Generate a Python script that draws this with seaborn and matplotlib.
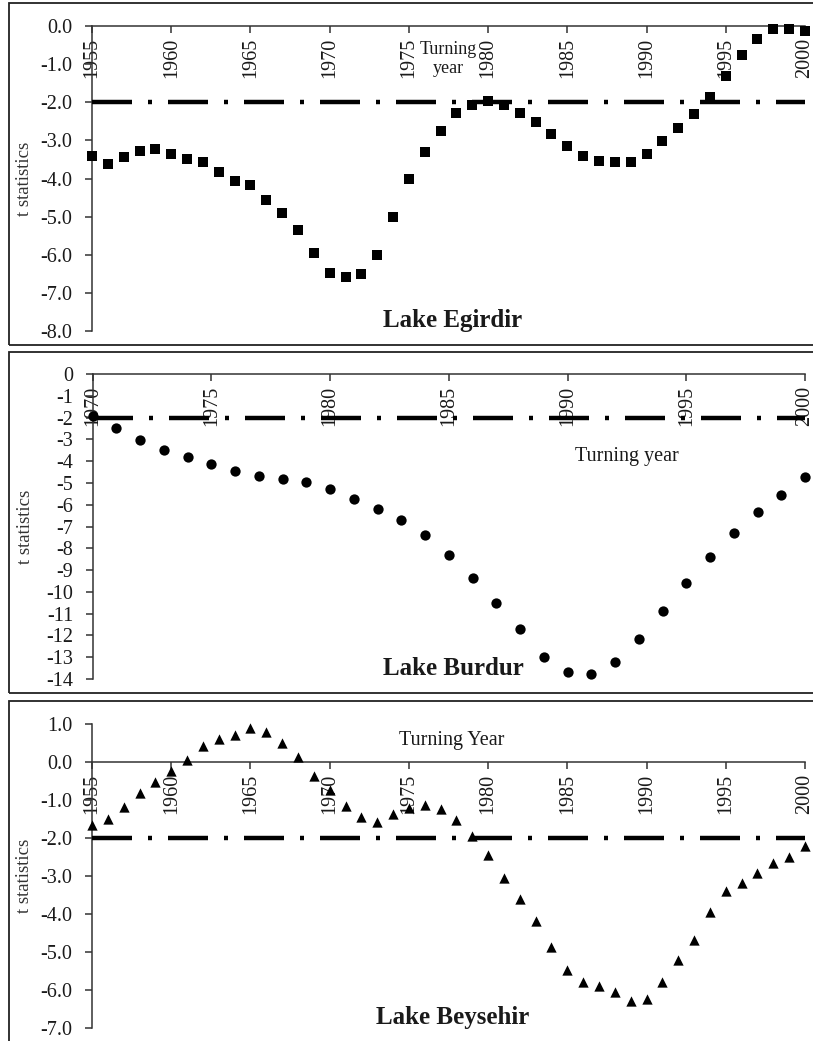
import numpy as np
import pandas as pd
import seaborn as sns
import matplotlib
matplotlib.use("Agg")
import matplotlib.pyplot as plt
from matplotlib.patches import Rectangle

# t statistics
years_long = list(range(1955, 2001))
years_burdur = list(range(1970, 2001))

egirdir = [-3.40, -3.63, -3.44, -3.28, -3.23, -3.37, -3.50, -3.58, -3.84, -4.06,
           -4.18, -4.57, -4.91, -5.35, -5.96, -6.47, -6.59, -6.51, -6.01, -5.00,
           -4.01, -3.31, -2.76, -2.29, -2.07, -1.98, -2.07, -2.29, -2.53, -2.84,
           -3.15, -3.40, -3.53, -3.58, -3.58, -3.37, -3.02, -2.67, -2.32, -1.85,
           -1.30, -0.76, -0.34, -0.08, -0.08, -0.12]

burdur = [-1.91, -2.48, -3.02, -3.48, -3.83, -4.13, -4.44, -4.69, -4.81, -4.98,
          -5.28, -5.74, -6.19, -6.71, -7.40, -8.30, -9.36, -10.49, -11.72, -13.00,
          -13.69, -13.77, -13.23, -12.16, -10.89, -9.59, -8.38, -7.32, -6.34, -5.57,
          -4.73]

beysehir = [-1.66, -1.49, -1.18, -0.81, -0.52, -0.22, 0.06, 0.42, 0.61, 0.73,
            0.90, 0.79, 0.51, 0.13, -0.35, -0.74, -1.14, -1.44, -1.57, -1.37,
            -1.20, -1.12, -1.22, -1.51, -1.94, -2.43, -3.04, -3.60, -4.17, -4.86,
            -5.47, -5.79, -5.88, -6.05, -6.27, -6.23, -5.79, -5.21, -4.68, -3.95,
            -3.39, -3.18, -2.91, -2.65, -2.48, -2.19]

crit = -2.0

egirdir_yticks = [0.0, -1.0, -2.0, -3.0, -4.0, -5.0, -6.0, -7.0, -8.0]
burdur_yticks = list(range(0, -15, -1))
beysehir_yticks = [1.0, 0.0, -1.0, -2.0, -3.0, -4.0, -5.0, -6.0, -7.0]
xticks_long = list(range(1955, 2001, 5))
xticks_burdur = list(range(1970, 2001, 5))

sns.set_style("white")
plt.rcParams['font.family'] = ['Liberation Serif', 'DejaVu Serif']
plt.rcParams['axes.unicode_minus'] = False

ink = "#1a1a1a"
axis_col = "#333333"

fig = plt.figure(figsize=(8.13, 10.41), dpi=100)

# panel frames (pixel boxes, open to the right like the source)
W, H = 813.0, 1041.0
for top, bottom in [(3, 345), (352, 693), (701, 1060)]:
    fig.patches.append(Rectangle((9 / W, 1 - bottom / H), 1.2, (bottom - top) / H,
                                 transform=fig.transFigure, fill=False,
                                 edgecolor="#222222", lw=1.3, clip_on=False))

panels = [
    dict(rect=[92 / W, 1 - 331 / H, 713 / W, 305 / H], x=years_long, y=egirdir,
         marker='s', s=42, ylim=(-8, 0), yticks=egirdir_yticks, fmt="{:.1f}",
         xticks=xticks_long, name="Lake Egirdir", turn="Turning\nyear",
         turn_xy=(0.500, 0.893), turn_fs=13),
    dict(rect=[92.7 / W, 1 - 679 / H, 712.3 / W, 305 / H], x=years_burdur, y=burdur,
         marker='o', s=55, ylim=(-14, 0), yticks=burdur_yticks, fmt="{:.0f}",
         xticks=xticks_burdur, name="Lake Burdur", turn="Turning year",
         turn_xy=(0.750, 0.728), turn_fs=14.5),
    dict(rect=[92 / W, 1 - 1028.3 / H, 713 / W, 304 / H], x=years_long, y=beysehir,
         marker='^', s=55, ylim=(-7, 1), yticks=beysehir_yticks, fmt="{:.1f}",
         xticks=xticks_long, name="Lake Beysehir", turn="Turning Year",
         turn_xy=(0.505, 0.947), turn_fs=14.5),
]

for p in panels:
    ax = fig.add_axes(p['rect'])
    ax.set_facecolor("none")
    df = pd.DataFrame({'year': p['x'], 't': p['y']})
    sns.scatterplot(data=df, x='year', y='t', marker=p['marker'], s=p['s'],
                    color='black', edgecolor='black', linewidth=0, ax=ax,
                    clip_on=False, zorder=4)
    ax.plot([p['x'][0], p['x'][-1]], [crit, crit], color='black', lw=3.2,
            dashes=(9, 3.6, 0.9, 3.6), solid_capstyle='butt', zorder=3)

    ax.set_xlim(p['x'][0], p['x'][-1])
    ax.set_ylim(*p['ylim'])
    for side in ['top', 'right']:
        ax.spines[side].set_visible(False)
    ax.spines['bottom'].set_position(('data', 0))
    for side in ['left', 'bottom']:
        ax.spines[side].set_color(axis_col)
        ax.spines[side].set_linewidth(1.1)

    ax.set_xticks(p['xticks'])
    ax.set_xticklabels([str(v) for v in p['xticks']], rotation=90)
    ax.set_yticks(p['yticks'])
    ax.set_yticklabels([p['fmt'].format(v) for v in p['yticks']])
    ax.tick_params(axis='x', direction='out', length=5, width=1.1, color=axis_col,
                   pad=3.5, labelsize=14.5, labelcolor=ink, bottom=True)
    ax.tick_params(axis='y', direction='out', length=5, width=1.1, color=axis_col,
                   pad=9, labelsize=14.5, labelcolor=ink, left=True)

    ax.set_xlabel("")
    ax.set_ylabel("t statistics", fontsize=13.5, color="#333333")
    ax.yaxis.set_label_coords(-0.083, 0.5)

    ax.text(0.506, 0.035, p['name'], transform=ax.transAxes, ha='center',
            va='center', fontsize=18, fontweight='bold', color=ink)
    ax.text(p['turn_xy'][0], p['turn_xy'][1], p['turn'], transform=ax.transAxes,
            ha='center', va='center', fontsize=p['turn_fs'], color=ink,
            linespacing=1.15, zorder=5)

fig.savefig("out.png", dpi=100)
